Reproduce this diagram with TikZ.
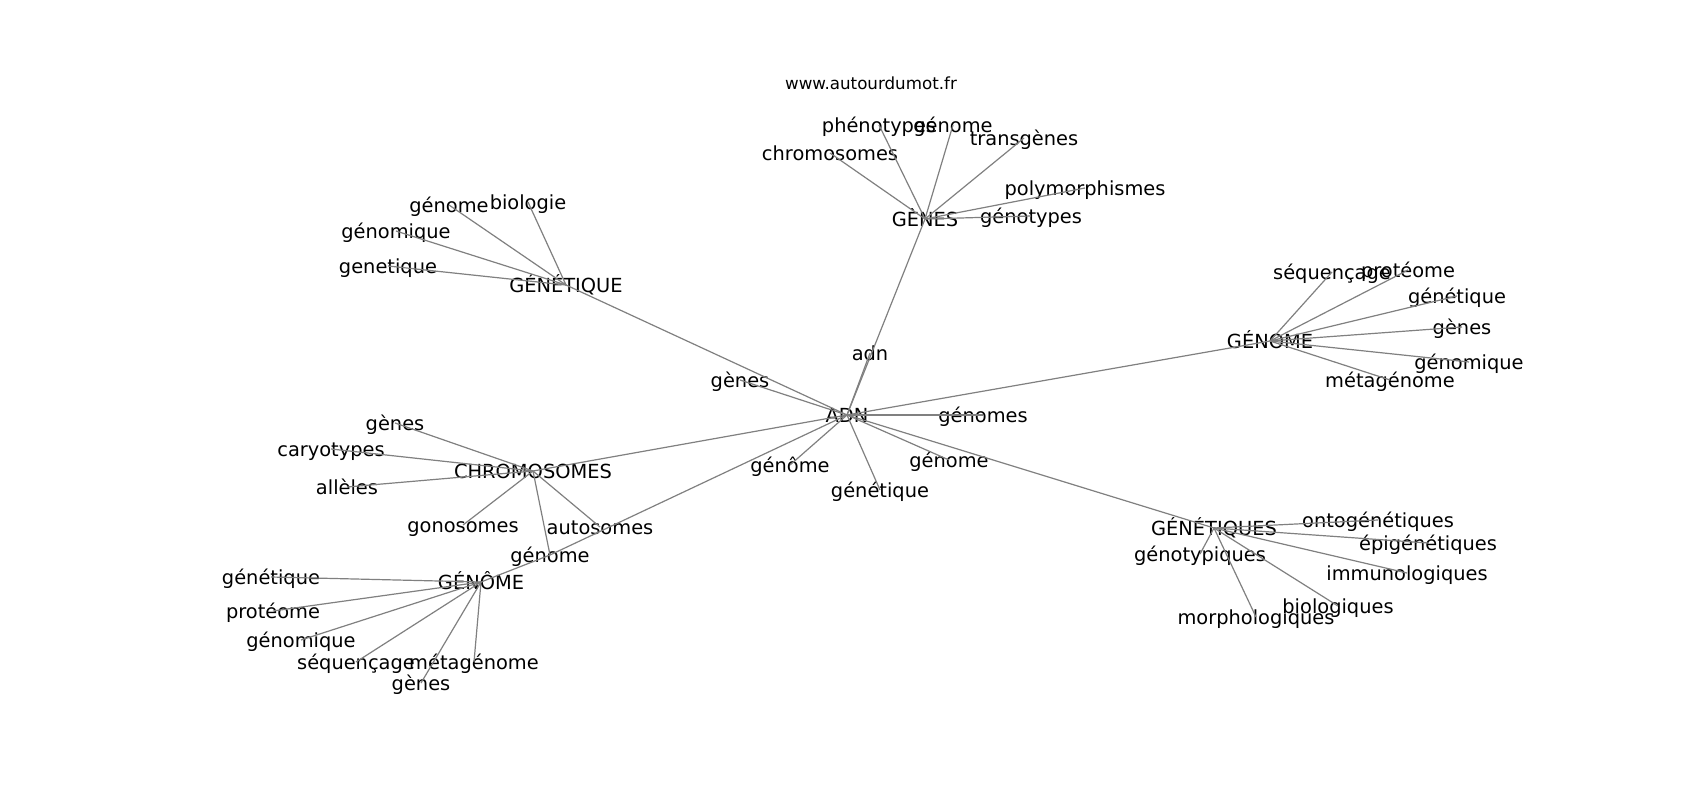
\documentclass[tikz,border=0pt]{standalone}
\usepackage{fontspec}
\setmainfont{DejaVu Sans}
\tikzset{
    word/.style={inner sep=0pt, text height=16pt, text depth=1.8pt,
                 font=\fontsize{19.4}{23}\selectfont},
    link/.style={draw=gray, line width=1.2pt},
}
\begin{document}
\begin{tikzpicture}[x=1pt, y=-1pt]
    % Canvas (pixel units, y downwards)
    \useasboundingbox (0,0) rectangle (1700,800);
    \fill[white] (0,0) rectangle (1700,800);

    % Title
    \node[word, text height=13.5pt, text depth=1.3pt, font=\fontsize{16.7}{20}\selectfont] (title) at (871,83) {www.autourdumot.fr};

    % Hub words
    \foreach \n/\x/\y/\t in {adn/847/415/ADN, genes/925/219/GÈNES, genetique/566/285/GÉNÉTIQUE,
        genome/1270/341/GÉNOME, chromo/533/471/CHROMOSOMES, genomeHat/481/582/GÉNÔME,
        genetiques/1214/528/GÉNÉTIQUES} {
        \node[word] (\n) at (\x,\y) {\t};
    }

    % Words around ADN
    \foreach \n/\x/\y/\t in {adnA/870/353/adn, adnB/740/380/gènes, adnC/983/415/génomes,
        adnD/790/465/génôme, adnE/949/460/génome, adnF/880/490/génétique, adnG/550/555/génome} {
        \node[word] (\n) at (\x,\y) {\t};
    }

    % Words around GÈNES
    \foreach \n/\x/\y/\t in {genesA/879/125/phénotypes, genesB/953/125/génome,
        genesC/830/153/chromosomes, genesD/1024/138/transgènes,
        genesE/1085/188/polymorphismes, genesF/1031/216/génotypes} {
        \node[word] (\n) at (\x,\y) {\t};
    }

    % Words around GÉNÉTIQUE
    \foreach \n/\x/\y/\t in {genetiqueA/449/205/génome, genetiqueB/528/202/biologie,
        genetiqueC/396/231/génomique, genetiqueD/388/266/genetique} {
        \node[word] (\n) at (\x,\y) {\t};
    }

    % Words around GÉNOME
    \foreach \n/\x/\y/\t in {genomeA/1332/272/séquençage, genomeB/1408/270/protéome,
        genomeC/1457/296/génétique, genomeD/1462/327/gènes,
        genomeE/1469/362/génomique, genomeF/1390/380/métagénome} {
        \node[word] (\n) at (\x,\y) {\t};
    }

    % Words around CHROMOSOMES
    \foreach \n/\x/\y/\t in {chromoA/395/423/gènes, chromoB/331/449/caryotypes,
        chromoC/347/487/allèles, chromoD/463/525/gonosomes, chromoE/600/527/autosomes} {
        \node[word] (\n) at (\x,\y) {\t};
    }

    % Words around GÉNÔME
    \foreach \n/\x/\y/\t in {genomeHatA/271/577/génétique, genomeHatB/273/611/protéome,
        genomeHatC/301/640/génomique, genomeHatD/356/662/séquençage,
        genomeHatE/474/662/métagénome, genomeHatF/421/683/gènes} {
        \node[word] (\n) at (\x,\y) {\t};
    }

    % Words around GÉNÉTIQUES
    \foreach \n/\x/\y/\t in {genetiquesA/1378/520/ontogénétiques, genetiquesB/1428/543/épigénétiques,
        genetiquesC/1200/554/génotypiques, genetiquesD/1407/573/immunologiques,
        genetiquesE/1338/606/biologiques, genetiquesF/1256/617/morphologiques} {
        \node[word] (\n) at (\x,\y) {\t};
    }

    % Links
    \foreach \a/\b in {adn/genes, adn/genetique, adn/genome, adn/chromo, adn/genetiques,
        adn/adnA, adn/adnB, adn/adnC, adn/adnD, adn/adnE, adn/adnF, adn/adnG,
        chromo/adnG, genomeHat/adnG,
        genes/genesA, genes/genesB, genes/genesC, genes/genesD, genes/genesE, genes/genesF,
        genetique/genetiqueA, genetique/genetiqueB, genetique/genetiqueC, genetique/genetiqueD,
        genome/genomeA, genome/genomeB, genome/genomeC, genome/genomeD, genome/genomeE, genome/genomeF,
        chromo/chromoA, chromo/chromoB, chromo/chromoC, chromo/chromoD, chromo/chromoE,
        genomeHat/genomeHatA, genomeHat/genomeHatB, genomeHat/genomeHatC,
        genomeHat/genomeHatD, genomeHat/genomeHatE, genomeHat/genomeHatF,
        genetiques/genetiquesA, genetiques/genetiquesB, genetiques/genetiquesC,
        genetiques/genetiquesD, genetiques/genetiquesE, genetiques/genetiquesF} {
        \draw[link] (\a.center) -- (\b.center);
    }
\end{tikzpicture}
\end{document}
